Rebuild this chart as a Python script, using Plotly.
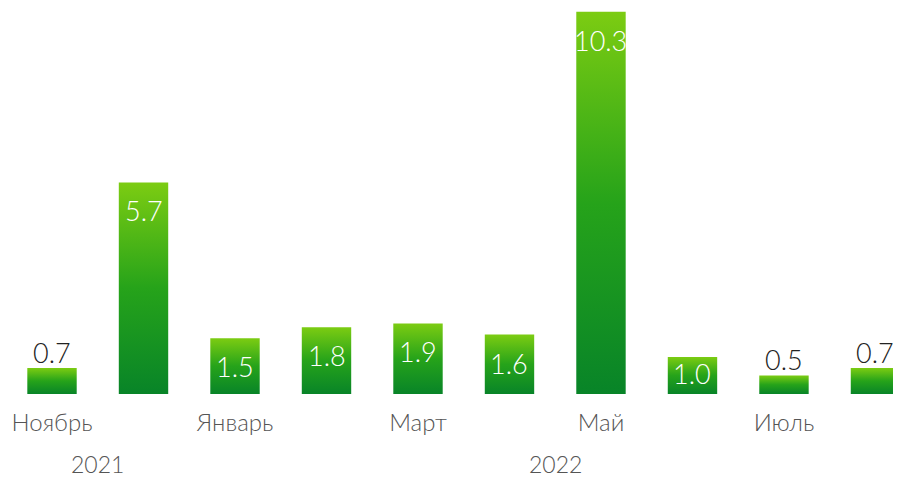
import plotly.graph_objects as go

months = ["Ноябрь", "Декабрь", "Январь", "Февраль", "Март", "Апрель", "Май", "Июнь", "Июль", "Август"]
values = [0.7, 5.7, 1.5, 1.8, 1.9, 1.6, 10.3, 1.0, 0.5, 0.7]
value_labels = ["0.7", "5.7", "1.5", "1.8", "1.9", "1.6", "10.3", "1.0", "0.5", "0.7"]
years = ["2021", "2022"]
year_spans = [(0, 1), (2, 9)]  # index ranges of months for each year
label_modes = ["outside", "inside", "inside", "inside", "inside", "inside", "inside", "center", "outside", "outside"]

BAR_W = 0.54
FONT = "Lato"
grad = [[0, "#088428"], [0.5, "#26A31A"], [1, "#7CCC12"]]

fig = go.Figure()
xs = list(range(len(values)))
for i, v in zip(xs, values):
    fig.add_trace(go.Scatter(
        x=[i - BAR_W / 2, i + BAR_W / 2, i + BAR_W / 2, i - BAR_W / 2, i - BAR_W / 2],
        y=[0, 0, v, v, 0],
        mode="lines", line=dict(width=0), fill="toself",
        fillgradient=dict(type="vertical", colorscale=grad),
        hoverinfo="skip", showlegend=False,
    ))

# value labels
for i, v, m, t in zip(xs, values, label_modes, value_labels):
    if m == "outside":
        y, anchor, shift, col = v, "bottom", -3, "#222222"
    elif m == "center":
        y, anchor, shift, col = v / 2, "middle", 2, "#ffffff"
    else:
        y, anchor, shift, col = v, "top", -10, "#ffffff"
    fig.add_annotation(
        x=i, y=y, xref="x", yref="y", text=t, showarrow=False,
        yanchor=anchor, yshift=shift,
        font=dict(family=FONT, size=27, color=col, weight=300),
    )

for yr, (a, b) in zip(years, year_spans):
    fig.add_annotation(
        x=(a + b) / 2, y=0, xref="x", yref="paper", yshift=-85,
        text=yr, showarrow=False, yanchor="bottom", borderpad=0,
        font=dict(family=FONT, size=23, color="#555555", weight=300),
    )

fig.update_layout(
    width=893, height=471,
    margin=dict(l=0, r=0, t=0, b=85),
    paper_bgcolor="white", plot_bgcolor="white",
    xaxis=dict(
        range=[-0.481, 9.279], showgrid=False, zeroline=False, showline=False,
        tickvals=xs[::2], ticktext=months[::2],
        ticks="outside", ticklen=7, tickcolor="rgba(0,0,0,0)",
        tickfont=dict(family=FONT, size=24, color="#555555", weight=300),
    ),
    yaxis=dict(range=[0, 10.40], visible=False, showgrid=False, zeroline=False),
)

fig.write_html("out.html")
